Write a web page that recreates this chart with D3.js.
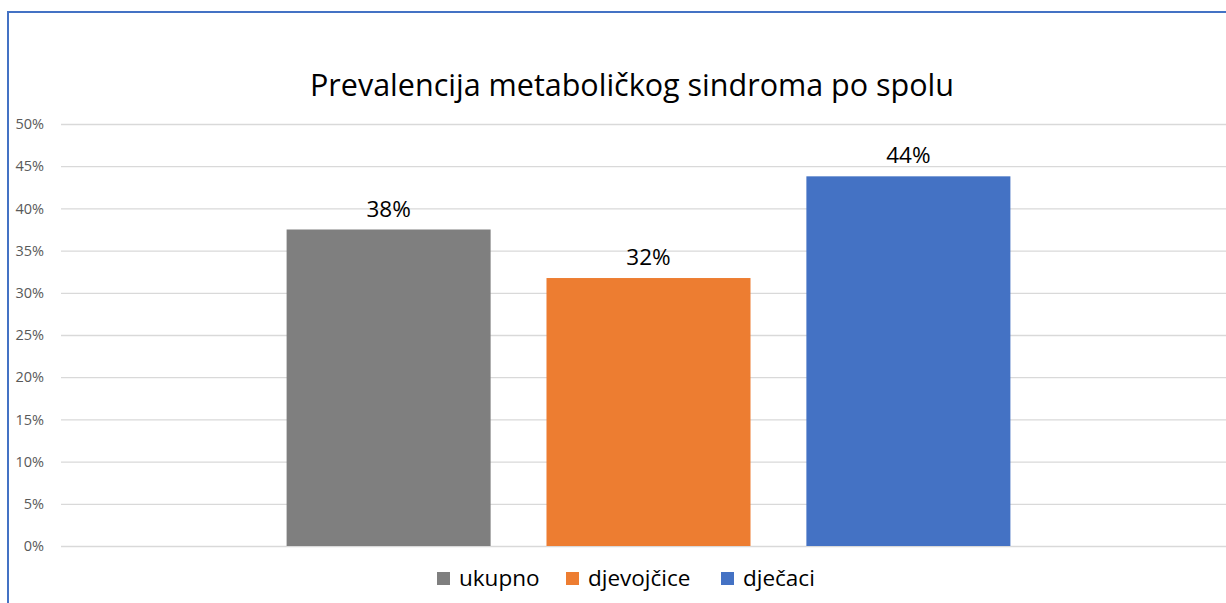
<!DOCTYPE html>
<html>
<head>
<meta charset="utf-8">
<script src="https://cdn.jsdelivr.net/npm/d3@7"></script>
<style>
  body { margin: 0; background: #fff; }
  text { font-family: "Open Sans", "Noto Sans", sans-serif; }
</style>
</head>
<body>
<div id="chart"></div>
<script>
// data
var series = ["ukupno", "djevojčice", "dječaci"];
var values = [37.5, 31.75, 43.8];
var labels = ["38%", "32%", "44%"];
var colors = ["#7f7f7f", "#ed7d31", "#4472c4"];
var yTicks = [0, 5, 10, 15, 20, 25, 30, 35, 40, 45, 50];

var svgwidth = 1226;
var svgheight = 603;

var margin = { top: 124, right: -10, bottom: 57, left: 61 };
var width = svgwidth - margin.left - margin.right;
var height = svgheight - margin.top - margin.bottom;

var svg = d3.select("#chart")
    .append("svg")
    .attr("width", svgwidth)
    .attr("height", svgheight);

// outer frame (only top and left visible)
svg.append("rect")
    .attr("x", 8)
    .attr("y", 12)
    .attr("width", 1240)
    .attr("height", 640)
    .attr("fill", "none")
    .attr("stroke", "#4472c4")
    .attr("stroke-width", 2);

svg.append("text")
    .attr("x", 632)
    .attr("y", 96)
    .attr("text-anchor", "middle")
    .attr("font-size", 30.5)
    .attr("fill", "#000")
    .text("Prevalencija metaboličkog sindroma po spolu");

var chartGroup = svg.append("g")
    .attr("transform", `translate(${margin.left},${margin.top})`);

var yscale = d3.scaleLinear()
    .domain([0, 50])
    .range([height, 0]);

// single category holding three series
var xscale = d3.scaleBand()
    .domain(series)
    .range([width * 0.192, width * 0.808])
    .paddingInner(0.215)
    .paddingOuter(0);

var yAxis = d3.axisLeft(yscale)
    .tickValues(yTicks)
    .tickSize(-width)
    .tickFormat(d => d + "%");

var yg = chartGroup.append("g").call(yAxis);
yg.select(".domain").remove();
yg.selectAll(".tick line")
    .attr("stroke", "#d9d9d9")
    .attr("stroke-width", 1.3);
yg.selectAll(".tick text")
    .attr("x", -17)
    .attr("font-size", 14.5)
    .attr("fill", "#595959");

chartGroup.selectAll("rect.bar")
    .data(series)
    .enter()
    .append("rect")
    .attr("class", "bar")
    .attr("x", d => xscale(d))
    .attr("width", xscale.bandwidth())
    .attr("y", (d, i) => yscale(values[i]))
    .attr("height", (d, i) => height - yscale(values[i]))
    .attr("fill", (d, i) => colors[i]);

chartGroup.selectAll("text.lbl")
    .data(series)
    .enter()
    .append("text")
    .attr("class", "lbl")
    .attr("x", d => xscale(d) + xscale.bandwidth() / 2)
    .attr("y", (d, i) => yscale(values[i]) - 13)
    .attr("text-anchor", "middle")
    .attr("font-size", 22.5)
    .attr("fill", "#000")
    .text((d, i) => labels[i]);

// legend
var legendX = [437, 566, 721];
var legend = svg.selectAll("g.legend")
    .data(series)
    .enter()
    .append("g")
    .attr("class", "legend")
    .attr("transform", (d, i) => `translate(${legendX[i]}, 572)`);

legend.append("rect")
    .attr("width", 13)
    .attr("height", 13)
    .attr("fill", (d, i) => colors[i]);

legend.append("text")
    .attr("x", 22)
    .attr("y", 14)
    .attr("font-size", 22.5)
    .attr("fill", "#000")
    .text(d => d);
</script>
</body>
</html>
